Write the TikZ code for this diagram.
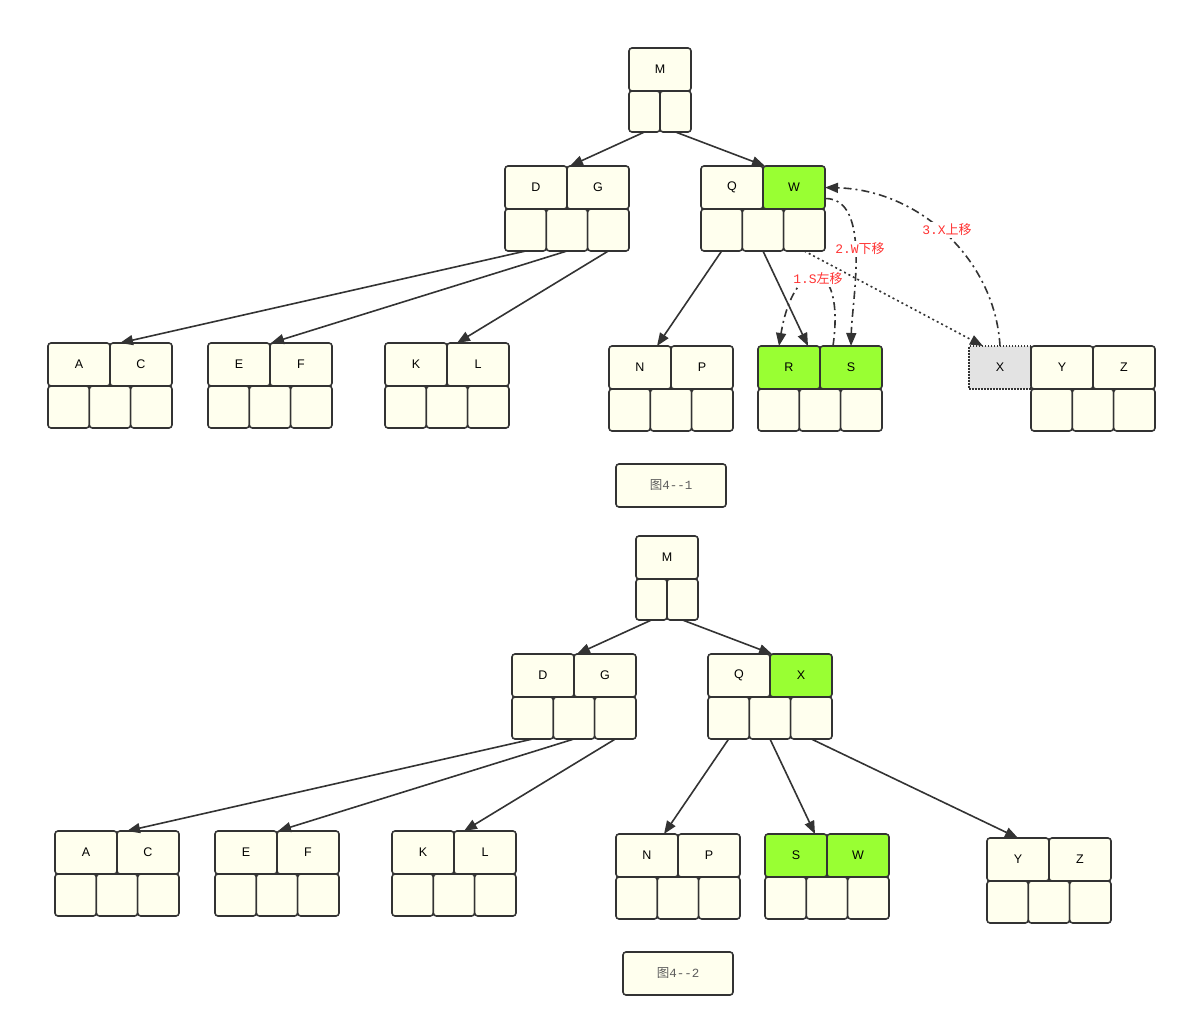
\documentclass[tikz,border=0pt]{standalone}
\usepackage{fontspec}
\setmainfont{Liberation Sans}
\newfontfamily\cjkfont{Noto Sans CJK SC}
\newfontfamily\lblfont{Liberation Mono}
\usepackage{xcolor}
\definecolor{cream}{RGB}{255,255,238}
\definecolor{moved}{RGB}{153,255,51}
\definecolor{ghost}{RGB}{227,227,227}
\definecolor{ink}{RGB}{51,51,51}
\definecolor{notered}{RGB}{255,51,51}
\usepackage{tikz}
\usetikzlibrary{arrows.meta,calc}
\tikzstyle{keybox} = [
    draw=ink, line width=1.6pt, fill=cream, rounded corners=3pt,
    minimum width=62pt, minimum height=43pt, inner sep=0pt, outer sep=0pt,
    font=\fontsize{12.5}{15}\selectfont,
]
\tikzstyle{slotbox} = [keybox, minimum width=41.33pt, minimum height=42pt]
\tikzstyle{mslot} = [keybox, minimum width=31pt, minimum height=41pt]
\tikzstyle{hot} = [fill=moved]
\tikzstyle{ghostbox} = [keybox, fill=ghost, sharp corners, line width=1.1pt, dash pattern=on 1.5pt off 1.5pt]
\tikzstyle{capbox} = [keybox, minimum width=110pt, text=ink!80]
\tikzstyle{link} = [draw=ink, line width=1.6pt, -{Triangle[length=13pt,width=10pt]}]
\tikzstyle{movelink} = [link, dash pattern=on 8pt off 4pt on 2pt off 4pt]
\tikzstyle{hint} = [link, dash pattern=on 2pt off 3pt]
\tikzstyle{note} = [text=notered, fill=white, inner sep=1.5pt, font=\fontsize{13}{15}\selectfont]
% one node of the tree: name, top left corner, two keys, their styles
\newcommand{\btnode}[7]{%
    \node[keybox,#6] (#1-k1) at (#2+31,#3+21.5) {#4};
    \node[keybox,#7] (#1-k2) at (#2+93,#3+21.5) {#5};
    \foreach \i in {1,2,3}
        \node[slotbox] (#1-s\i) at (#2+41.33*\i-20.67,#3+64) {};
}

\begin{document}
\begin{tikzpicture}[x=1pt,y=-1pt]
    \useasboundingbox (0,0) rectangle (1187,1027);

    % before: X goes up, W down, S left
    \node[keybox] (m) at (660,69.5) {M};
    \node[mslot] (m-s1) at (644.5,111.5) {};
    \node[mslot] (m-s2) at (675.5,111.5) {};

    \btnode{dg}{505}{166}{D}{G}{}{}
    \btnode{qw}{701}{166}{Q}{W}{}{hot}
    \btnode{ac}{48}{343}{A}{C}{}{}
    \btnode{ef}{208}{343}{E}{F}{}{}
    \btnode{kl}{385}{343}{K}{L}{}{}
    \btnode{np}{609}{346}{N}{P}{}{}
    \btnode{rs}{758}{346}{R}{S}{hot}{hot}
    \node[ghostbox] (xg) at (1000,367.5) {X};
    \btnode{yz}{1031}{346}{Y}{Z}{}{}

    \draw[link] (m-s1.south) -- ([xshift=3pt]dg-k1.north east);
    \draw[link] (m-s2.south) -- ([xshift=2pt]qw-k1.north east);
    \draw[link] (dg-s1.south) -- ([xshift=10pt]ac-k1.north east);
    \draw[link] (dg-s2.south) -- ([xshift=1pt]ef-k1.north east);
    \draw[link] (dg-s3.south) -- ([xshift=10pt]kl-k1.north east);
    \draw[link] (qw-s1.south) -- ([xshift=-14pt]np-k1.north east);
    \draw[link] (qw-s2.south) -- ([xshift=-12pt]rs-k1.north east);
    \draw[hint] (qw-s3.south) -- ([xshift=14pt]xg.north west);

    \draw[movelink] ([xshift=13pt]rs-k2.north west) .. controls (846,254) and (794,254) .. ([xshift=21pt]rs-k1.north west);
    \draw[movelink] ([yshift=-11pt]qw-k2.east) .. controls (872,198) and (852,300) .. (rs-k2.north);
    \draw[movelink] (xg.north) .. controls (995,260) and (920,190) .. (qw-k2.east);
    \node[note] (lb1) at (818,279) {\lblfont 1.S\cjkfont 左移};
    \node[note] (lb2) at (860,249) {\lblfont 2.W\cjkfont 下移};
    \node[note] (lb3) at (947,230) {\lblfont 3.X\cjkfont 上移};

    \node[capbox] (cap1) at (671,485.5) {{\cjkfont 图}\lblfont 4-{}-1};

    % after
    \node[keybox] (m2) at (667,557.5) {M};
    \node[mslot] (m2-s1) at (651.5,599.5) {};
    \node[mslot] (m2-s2) at (682.5,599.5) {};

    \btnode{dg2}{512}{654}{D}{G}{}{}
    \btnode{qx}{708}{654}{Q}{X}{}{hot}
    \btnode{ac2}{55}{831}{A}{C}{}{}
    \btnode{ef2}{215}{831}{E}{F}{}{}
    \btnode{kl2}{392}{831}{K}{L}{}{}
    \btnode{np2}{616}{834}{N}{P}{}{}
    \btnode{sw}{765}{834}{S}{W}{hot}{hot}
    \btnode{yz2}{987}{838}{Y}{Z}{}{}

    \draw[link] (m2-s1.south) -- ([xshift=3pt]dg2-k1.north east);
    \draw[link] (m2-s2.south) -- ([xshift=2pt]qx-k1.north east);
    \draw[link] (dg2-s1.south) -- ([xshift=10pt]ac2-k1.north east);
    \draw[link] (dg2-s2.south) -- ([xshift=1pt]ef2-k1.north east);
    \draw[link] (dg2-s3.south) -- ([xshift=10pt]kl2-k1.north east);
    \draw[link] (qx-s1.south) -- ([xshift=-14pt]np2-k1.north east);
    \draw[link] (qx-s2.south) -- ([xshift=-12pt]sw-k1.north east);
    \draw[link] (qx-s3.south) -- (yz2-k1.north);

    \node[capbox] (cap2) at (678,973.5) {{\cjkfont 图}\lblfont 4-{}-2};
\end{tikzpicture}
\end{document}
